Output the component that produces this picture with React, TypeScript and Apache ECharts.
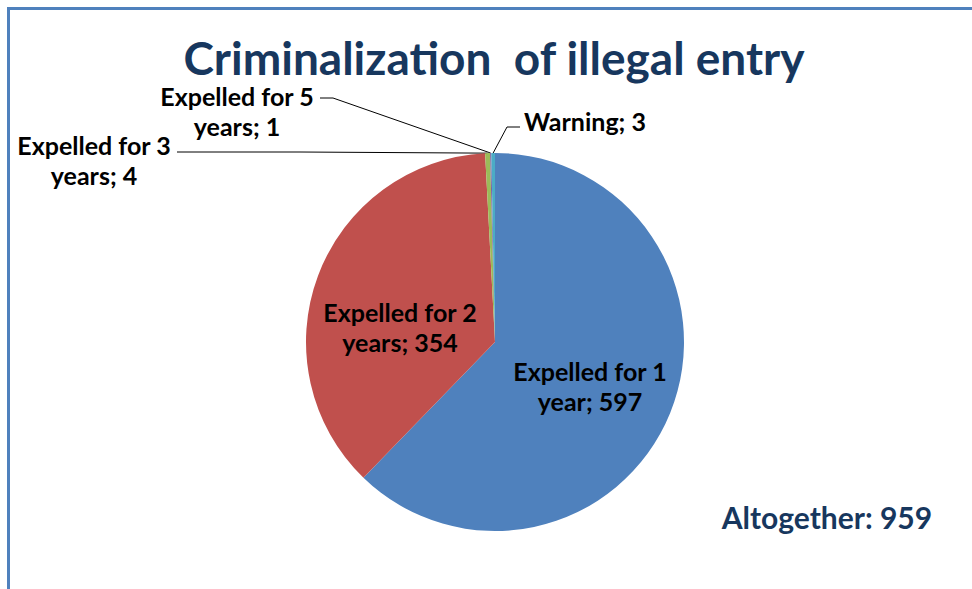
import React, { useEffect, useRef } from 'react';
import * as echarts from 'echarts';

const categories = ['Expelled for 1 year', 'Expelled for 2 years', 'Expelled for 3 years', 'Expelled for 5 years', 'Warning'];
const values = [597, 354, 4, 1, 3];
const colors = ['#4F81BD', '#C0504D', '#9BBB59', '#8064A2', '#4BACC6'];
const titleText = 'Criminalization  of illegal entry';
const totalPrefix = 'Altogether';
const insideIdx = [0, 1];

export default function App() {
  const ref = useRef<HTMLDivElement>(null);
  useEffect(() => {
    if (!ref.current) return;
    const chart = echarts.init(ref.current, null, { renderer: 'svg' });
    const total = values.reduce((a, b) => a + b, 0);
    const font = 'Lato, "Open Sans", sans-serif';
    const labelPos: number[][] = [[590, 386], [400, 327], [94, 160], [237, 111], [585, 121]];
    const elbows: number[][][] = [[], [], [[300, 152], [177, 152]], [[333, 98], [320, 98]], [[507, 127], [520, 127]]];
    chart.setOption({
      animation: false,
      backgroundColor: '#ffffff',
      graphic: [
        { type: 'rect', shape: { x: 8.5, y: 8.5, width: 1000, height: 700 }, style: { fill: 'none', stroke: '#4F81BD', lineWidth: 3 }, silent: true },
        { type: 'text', x: 494, y: 57, style: { text: titleText, fontSize: 46, fontWeight: 'bold', fontFamily: font, fill: '#17375E', textAlign: 'center', textVerticalAlign: 'middle' } },
        { type: 'text', x: 827, y: 517, style: { text: `${totalPrefix}: ${total}`, fontSize: 30, fontWeight: 'bold', fontFamily: font, fill: '#17375E', textAlign: 'center', textVerticalAlign: 'middle' } },
      ],
      series: [
        {
          type: 'pie',
          center: [495, 342],
          radius: 189,
          startAngle: 90,
          clockwise: true,
          avoidLabelOverlap: false,
          itemStyle: { borderWidth: 0 },
          label: {
            show: true,
            position: 'outside',
            formatter: (p: any) => `${String(p.name).replace(/^(Expelled for \d) /, '$1\n')}; ${p.value}`,
            fontFamily: font,
            fontWeight: 'bold',
            fontSize: 25,
            lineHeight: 30,
            color: '#000000',
          },
          labelLine: { show: true, lineStyle: { color: '#000000', width: 1 } },
          labelLayout: (params: any) => {
            const i = params.dataIndex;
            const [x, y] = labelPos[i];
            const res: any = { x, y, align: 'center', verticalAlign: 'middle' };
            if (!insideIdx.includes(i) && params.labelLinePoints) {
              const start = params.labelLinePoints[0];
              res.labelLinePoints = [start, ...elbows[i]];
            }
            return res;
          },
          data: categories.map((name, i) => ({
            name,
            value: values[i],
            itemStyle: { color: colors[i] },
            label: insideIdx.includes(i) ? { position: 'inside' } : { position: 'outside' },
            labelLine: { show: !insideIdx.includes(i) },
          })),
        },
      ],
    });
    return () => chart.dispose();
  }, []);
  return <div ref={ref} style={{ position: 'fixed', left: 0, top: 0, width: 972, height: 589 }} />;
}
